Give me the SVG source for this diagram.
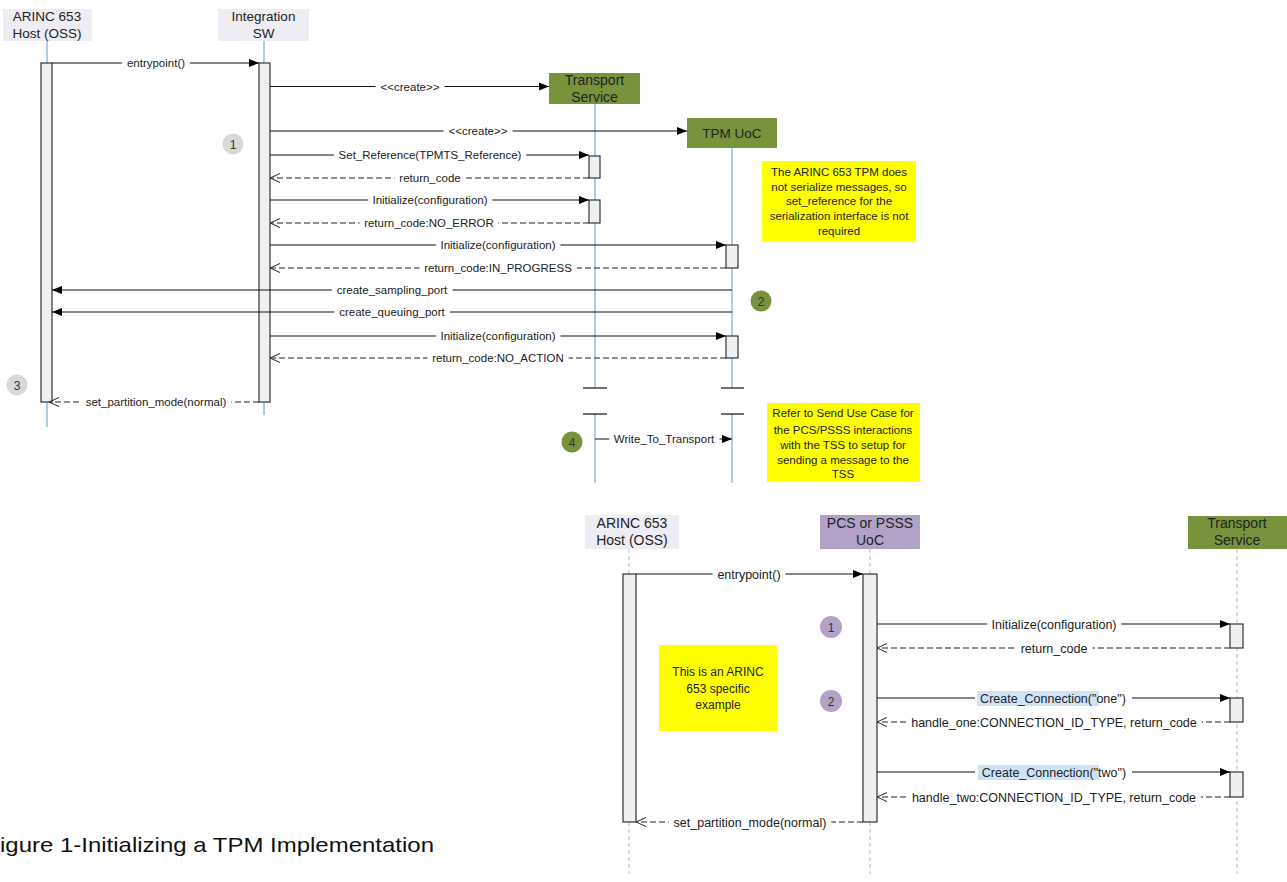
<svg xmlns="http://www.w3.org/2000/svg" width="1287" height="882" viewBox="0 0 1287 882">
<style>
.hd{fill:#efedf4}
.gr{fill:#77933c}
.pu{fill:#b3a2c7}
.ht{font-family:"Liberation Sans",Arial,sans-serif;font-size:13.5px;fill:#222;text-anchor:middle}
.hb{font-family:"Liberation Sans",Arial,sans-serif;font-size:14px;fill:#222;text-anchor:middle}
.ll{stroke:#5b9bd5;stroke-width:1;fill:none}
.lld{stroke:#9dc3e6;stroke-width:1;stroke-dasharray:4,3;fill:none}
.act{fill:#f0f0f0;stroke:#333;stroke-width:1.2}
.m{stroke:#111;stroke-width:1.2;fill:none}
.r{stroke:#222;stroke-width:1.1;fill:none;stroke-dasharray:6,3}
.lt{font-family:"Liberation Sans",Arial,sans-serif;font-size:11.5px;fill:#222;text-anchor:middle;paint-order:stroke;stroke:#fff;stroke-width:11px;stroke-linejoin:round}
.lb{font-family:"Liberation Sans",Arial,sans-serif;font-size:12.5px;fill:#222;text-anchor:middle;paint-order:stroke;stroke:#fff;stroke-width:11px;stroke-linejoin:round}
.lbn{font-family:"Liberation Sans",Arial,sans-serif;font-size:12.5px;fill:#222;text-anchor:middle}
.note{fill:#ffff00}
.nt{font-family:"Liberation Sans",Arial,sans-serif;font-size:11.5px;fill:#222;text-anchor:middle}
.nb{font-family:"Liberation Sans",Arial,sans-serif;font-size:12px;fill:#222;text-anchor:middle}
.ct{font-family:"Liberation Sans",Arial,sans-serif;font-size:12px;fill:#333;text-anchor:middle}
.brk{stroke:#111;stroke-width:1.2}
</style>
<defs>
<marker id="fa" viewBox="0 0 10 10" refX="10" refY="5" markerWidth="10" markerHeight="9" markerUnits="userSpaceOnUse" orient="auto" preserveAspectRatio="none"><path d="M0,0.5 L10,5 L0,9.5 z" fill="#000"/></marker>
<marker id="oa" viewBox="0 0 10 10" refX="10" refY="5" markerWidth="10" markerHeight="10" markerUnits="userSpaceOnUse" orient="auto" preserveAspectRatio="none"><path d="M0,0.5 L10,5 L0,9.5" fill="none" stroke="#333" stroke-width="1.1"/></marker>
</defs>
<rect width="1287" height="882" fill="#fff"/>

<!-- Top diagram nodes -->
<g id="t-host">
<rect class="hd" x="3" y="9" width="89" height="32"/>
<text class="ht" x="47" y="20.5">ARINC 653</text>
<text class="ht" x="47" y="37.5">Host (OSS)</text>
<line class="ll" x1="47" y1="41" x2="47" y2="63"/>
<line class="ll" x1="47" y1="402" x2="47" y2="427"/>
<rect class="act" x="41" y="63" width="11" height="339"/>
</g>
<g id="t-integration">
<rect class="hd" x="218" y="9" width="91" height="32"/>
<text class="ht" x="263.5" y="20.5">Integration</text>
<text class="ht" x="263.5" y="37.5">SW</text>
<line class="ll" x1="264" y1="41" x2="264" y2="63"/>
<line class="ll" x1="264" y1="402" x2="264" y2="415"/>
<rect class="act" x="259" y="63" width="11" height="339"/>
</g>
<g id="t-transport">
<rect class="gr" x="549" y="73" width="91" height="31"/>
<text class="hb" x="594.5" y="85">Transport</text>
<text class="hb" x="594.5" y="101.5">Service</text>
<line class="ll" x1="595" y1="104" x2="595" y2="388"/>
<line class="ll" x1="595" y1="414" x2="595" y2="483"/>
<line class="brk" x1="583" y1="388" x2="607" y2="388"/>
<line class="brk" x1="583" y1="414" x2="607" y2="414"/>
<rect class="act" x="589" y="156" width="11" height="22"/>
<rect class="act" x="589" y="200" width="11" height="23"/>
</g>
<g id="t-tpm">
<rect class="gr" x="687" y="118" width="90" height="30"/>
<text class="ht" x="732" y="138">TPM UoC</text>
<line class="ll" x1="732" y1="148" x2="732" y2="388"/>
<line class="ll" x1="732" y1="414" x2="732" y2="483"/>
<line class="brk" x1="721" y1="388" x2="744" y2="388"/>
<line class="brk" x1="721" y1="414" x2="744" y2="414"/>
<rect class="act" x="726" y="245" width="12" height="23"/>
<rect class="act" x="726" y="336" width="12" height="22"/>
</g>
<g id="t-note1">
<rect class="note" x="762" y="161" width="154" height="80"/>
<text class="nt" x="839" y="175.5">The ARINC 653 TPM does</text>
<text class="nt" x="839" y="190.5">not serialize messages, so</text>
<text class="nt" x="839" y="205">set_reference for the</text>
<text class="nt" x="839" y="220">serialization interface is not</text>
<text class="nt" x="839" y="235">required</text>
</g>
<g id="t-note2">
<rect class="note" x="767" y="403" width="153" height="79"/>
<text class="nt" x="843" y="417">Refer to Send Use Case for</text>
<text class="nt" x="843" y="433.5">the PCS/PSSS interactions</text>
<text class="nt" x="843" y="449">with the TSS to setup for</text>
<text class="nt" x="843" y="464">sending a message to the</text>
<text class="nt" x="843" y="478">TSS</text>
</g>
<g id="t-step1"><circle cx="233" cy="144" r="10.5" fill="#d9d9d9"/><text class="ct" x="233" y="148.5">1</text></g>
<g id="t-step2"><circle cx="761" cy="301" r="10.5" fill="#77933c"/><text class="ct" x="761" y="305.5">2</text></g>
<g id="t-step3"><circle cx="17" cy="385" r="10.5" fill="#d9d9d9"/><text class="ct" x="17" y="389.5">3</text></g>
<g id="t-step4"><circle cx="572" cy="442" r="10.5" fill="#77933c"/><text class="ct" x="572" y="446.5">4</text></g>

<!-- Top connectors -->
<g id="t-connectors">
<line class="m" x1="52" y1="63" x2="259" y2="63" marker-end="url(#fa)"/>
<text class="lt" x="156" y="67">entrypoint()</text>
<line class="m" x1="270" y1="86.5" x2="549" y2="86.5" marker-end="url(#fa)"/>
<text class="lt" x="410" y="90.5">&lt;&lt;create&gt;&gt;</text>
<line class="m" x1="270" y1="131" x2="687" y2="131" marker-end="url(#fa)"/>
<text class="lt" x="478" y="135">&lt;&lt;create&gt;&gt;</text>
<line class="m" x1="270" y1="155" x2="589" y2="155" marker-end="url(#fa)"/>
<text class="lt" x="430" y="159">Set_Reference(TPMTS_Reference)</text>
<line class="r" x1="589" y1="178" x2="270" y2="178" marker-end="url(#oa)"/>
<text class="lt" x="430" y="182">return_code</text>
<line class="m" x1="270" y1="200" x2="589" y2="200" marker-end="url(#fa)"/>
<text class="lt" x="430" y="204">Initialize(configuration)</text>
<line class="r" x1="589" y1="223" x2="270" y2="223" marker-end="url(#oa)"/>
<text class="lt" x="429" y="227">return_code:NO_ERROR</text>
<line class="m" x1="270" y1="245" x2="726" y2="245" marker-end="url(#fa)"/>
<text class="lt" x="498" y="249">Initialize(configuration)</text>
<line class="r" x1="726" y1="268" x2="270" y2="268" marker-end="url(#oa)"/>
<text class="lt" x="498" y="272">return_code:IN_PROGRESS</text>
<line class="m" x1="732" y1="290" x2="52" y2="290" marker-end="url(#fa)"/>
<text class="lt" x="392" y="294">create_sampling_port</text>
<line class="m" x1="732" y1="312" x2="52" y2="312" marker-end="url(#fa)"/>
<text class="lt" x="392" y="316">create_queuing_port</text>
<line class="m" x1="270" y1="336" x2="726" y2="336" marker-end="url(#fa)"/>
<text class="lt" x="498" y="340">Initialize(configuration)</text>
<line class="r" x1="726" y1="358" x2="270" y2="358" marker-end="url(#oa)"/>
<text class="lt" x="498" y="362">return_code:NO_ACTION</text>
<line class="r" x1="259" y1="402" x2="49" y2="402" marker-end="url(#oa)"/>
<text class="lt" x="156" y="406">set_partition_mode(normal)</text>
<line class="m" x1="595" y1="439" x2="732" y2="439" marker-end="url(#fa)"/>
<text class="lt" x="664" y="443">Write_To_Transport</text>
</g>

<!-- Bottom diagram nodes -->
<g id="b-host">
<rect class="hd" x="585" y="515" width="94" height="34"/>
<text class="hb" x="632" y="528">ARINC 653</text>
<text class="hb" x="632" y="545">Host (OSS)</text>
<line class="lld" x1="629" y1="549" x2="629" y2="574"/>
<line class="lld" x1="629" y1="822" x2="629" y2="874"/>
<rect class="act" x="623" y="574" width="13" height="248"/>
</g>
<g id="b-pcs">
<rect class="pu" x="820" y="515" width="100" height="34"/>
<text class="hb" x="870" y="528">PCS or PSSS</text>
<text class="hb" x="870" y="545">UoC</text>
<line class="lld" x1="870" y1="549" x2="870" y2="574"/>
<line class="lld" x1="870" y1="822" x2="870" y2="874"/>
<rect class="act" x="863" y="574" width="14" height="248"/>
</g>
<g id="b-transport">
<rect class="gr" x="1188" y="516" width="99" height="33"/>
<text class="hb" x="1237" y="528">Transport</text>
<text class="hb" x="1237" y="545">Service</text>
<line class="lld" x1="1237" y1="549" x2="1237" y2="874"/>
<rect class="act" x="1230" y="624" width="13" height="24"/>
<rect class="act" x="1230" y="698" width="13" height="24"/>
<rect class="act" x="1230" y="772" width="13" height="25"/>
</g>
<g id="b-note">
<rect class="note" x="659" y="645" width="118" height="86"/>
<text class="nb" x="718" y="676">This is an ARINC</text>
<text class="nb" x="718" y="693">653 specific</text>
<text class="nb" x="718" y="709">example</text>
</g>
<g id="b-step1"><circle cx="831" cy="627" r="11" fill="#b3a2c7"/><text class="ct" x="831" y="631.5">1</text></g>
<g id="b-step2"><circle cx="831" cy="701" r="11" fill="#b3a2c7"/><text class="ct" x="831" y="705.5">2</text></g>

<!-- Bottom connectors -->
<g id="b-connectors">
<line class="m" x1="636" y1="574" x2="863" y2="574" marker-end="url(#fa)"/>
<text class="lb" x="749" y="578.5">entrypoint()</text>
<line class="m" x1="877" y1="624" x2="1230" y2="624" marker-end="url(#fa)"/>
<text class="lb" x="1054" y="628.5">Initialize(configuration)</text>
<line class="r" x1="1230" y1="648" x2="877" y2="648" marker-end="url(#oa)"/>
<text class="lb" x="1054" y="652.5">return_code</text>
<line class="m" x1="877" y1="698" x2="1230" y2="698" marker-end="url(#fa)"/>
<rect x="975" y="690" width="157" height="16" fill="#fff"/>
<rect x="977" y="691" width="122" height="15" fill="#cfe2f7"/>
<text class="lbn" x="1053" y="702.5">Create_Connection("one")</text>
<line class="r" x1="1230" y1="722" x2="877" y2="722" marker-end="url(#oa)"/>
<text class="lb" x="1054" y="726.5">handle_one:CONNECTION_ID_TYPE, return_code</text>
<line class="m" x1="877" y1="772" x2="1230" y2="772" marker-end="url(#fa)"/>
<rect x="975" y="764" width="157" height="16" fill="#fff"/>
<rect x="978" y="765" width="121" height="15" fill="#cfe2f7"/>
<text class="lbn" x="1054" y="776.5">Create_Connection("two")</text>
<line class="r" x1="1230" y1="797" x2="877" y2="797" marker-end="url(#oa)"/>
<text class="lb" x="1054" y="801.5">handle_two:CONNECTION_ID_TYPE, return_code</text>
<line class="r" x1="863" y1="822" x2="636" y2="822" marker-end="url(#oa)"/>
<text class="lb" x="750" y="826.5">set_partition_mode(normal)</text>
</g>

<text x="0" y="852" font-family="'Liberation Sans',Arial,sans-serif" font-size="21" fill="#111" textLength="434" lengthAdjust="spacingAndGlyphs">igure 1-Initializing a TPM Implementation</text>
</svg>
